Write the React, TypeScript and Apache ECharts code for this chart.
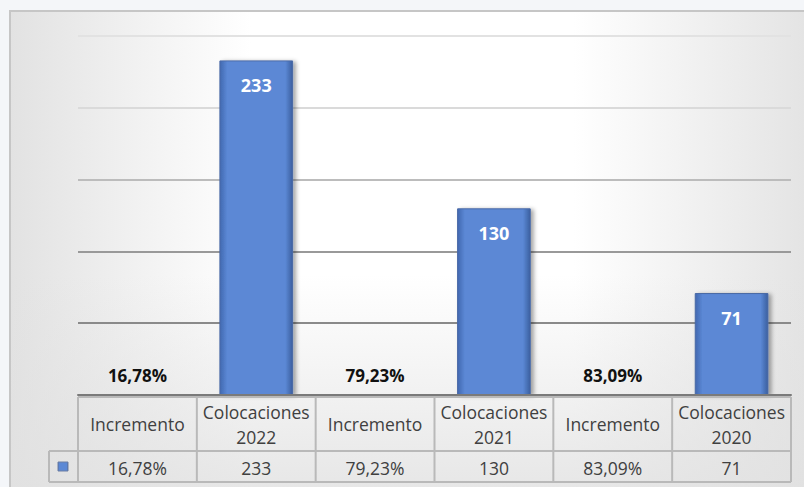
import React, { useEffect, useRef } from "react";
import * as echarts from "echarts";

const categories = ["Incremento", "Colocaciones\n2022", "Incremento", "Colocaciones\n2021", "Incremento", "Colocaciones\n2020"];
const values = [0.1678, 233, 0.7923, 130, 0.8309, 71];
const isPercent = [true, false, true, false, true, false];
const yTicks = [0, 50, 100, 150, 200, 250];

const fmt = (v: number, pct: boolean) =>
  pct ? (v * 100).toFixed(2).replace(".", ",") + "%" : String(v);

const FONT = "'Open Sans', 'Noto Sans', sans-serif";

export default function App() {
  const ref = useRef<HTMLDivElement>(null);
  useEffect(() => {
    if (!ref.current) return;
    const chart = echarts.init(ref.current, null, { renderer: "svg" });
    const barGrad = {
      type: "linear", x: 0, y: 0, x2: 1, y2: 0,
      colorStops: [
        { offset: 0, color: "#4168b0" },
        { offset: 0.1, color: "#5b88d5" },
        { offset: 0.9, color: "#5b88d5" },
        { offset: 1, color: "#3b5f9f" },
      ],
    };
    const data = values.map((v, i) => ({
      value: v,
      label: isPercent[i]
        ? { show: true, position: "top", distance: 10, color: "#111", fontWeight: "bold", fontSize: 17, fontFamily: FONT, formatter: () => fmt(v, true) }
        : { show: true, position: "insideTop", distance: 16, color: "#ffffff", fontWeight: "bold", fontSize: 18, fontFamily: FONT, formatter: () => fmt(v, false) },
    }));
    chart.setOption({
      animation: false,
      backgroundColor: "#f4f6f9",
      grid: { left: 78, right: 13, top: 36, bottom: 92 },
      xAxis: {
        type: "category",
        data: categories,
        axisLabel: { show: false },
        axisTick: { show: false },
        axisLine: { show: true, lineStyle: { color: "#7a7a7a", width: 2 } },
        z: 5,
      },
      yAxis: {
        type: "value",
        min: yTicks[0],
        max: yTicks[yTicks.length - 1],
        interval: 50,
        axisLabel: { show: false },
        axisLine: { show: false },
        axisTick: { show: false },
        splitLine: { show: true, lineStyle: { color: ["#8a8a8a", "#8a8a8a", "#999999", "#bcbcbc", "#dadada", "#e2e2e2"], width: 2 } },
      },
      series: [
        {
          type: "bar",
          data,
          barWidth: "62%",
          itemStyle: {
            color: barGrad,
            borderColor: "#4a6aa6",
            borderWidth: 1,
            shadowColor: "rgba(0,0,0,0.35)",
            shadowBlur: 4,
            shadowOffsetX: 3,
            shadowOffsetY: 1,
          },
          z: 3,
        },
      ],
    });

    const centers = categories.map((_, i) => chart.convertToPixel({ xAxisIndex: 0 }, i) as number);
    const half = (centers[1] - centers[0]) / 2;
    const axisY = chart.convertToPixel({ yAxisIndex: 0 }, 0) as number;
    const W = chart.getWidth();
    const H = chart.getHeight();
    const left = centers[0] - half;
    const right = centers[centers.length - 1] + half;
    const top = axisY + 2;
    const mid = axisY + 56;
    const bot = axisY + 87;
    const keyLeft = left - 29;
    const lineCol = "#b9b9b9";
    const g: any[] = [];
    g.push({
      type: "rect", z: -10, silent: true,
      shape: { x: 10, y: 11, width: W, height: H },
      style: {
        fill: {
          type: "linear", x: 0, y: 0, x2: 1, y2: 0,
          colorStops: [
            { offset: 0, color: "#e2e2e2" },
            { offset: 0.3, color: "#ffffff" },
            { offset: 0.7, color: "#ffffff" },
            { offset: 1, color: "#e3e3e3" },
          ],
        },
        stroke: "#c6c6c6",
        lineWidth: 2,
      },
    });
    g.push({
      type: "rect", z: -9, silent: true,
      shape: { x: 11, y: axisY - 120, width: W, height: H - axisY + 120 },
      style: {
        fill: {
          type: "linear", x: 0, y: 0, x2: 0, y2: 1,
          colorStops: [
            { offset: 0, color: "rgba(225,225,225,0)" },
            { offset: 1, color: "rgba(225,225,225,0.8)" },
          ],
        },
      },
    });
    const line = (x1: number, y1: number, x2: number, y2: number) =>
      g.push({ type: "line", z: 10, silent: true, shape: { x1, y1, x2, y2 }, style: { stroke: lineCol, lineWidth: 2 } });
    line(left, top, right, top);
    line(keyLeft, mid, right, mid);
    line(keyLeft, bot, right, bot);
    line(keyLeft, mid, keyLeft, bot);
    for (let i = 0; i <= centers.length; i++) {
      const x = i < centers.length ? centers[i] - half : right;
      line(x, top, x, bot);
    }
    categories.forEach((c, i) => {
      g.push({
        type: "text", z: 11, silent: true,
        x: centers[i], y: (top + mid) / 2,
        style: { text: c, fill: "#404040", font: `17.5px ${FONT}`, align: "center", verticalAlign: "middle", lineHeight: 25 },
      });
      g.push({
        type: "text", z: 11, silent: true,
        x: centers[i], y: (mid + bot) / 2 + 1,
        style: { text: fmt(values[i], isPercent[i]), fill: "#404040", font: `17.5px ${FONT}`, align: "center", verticalAlign: "middle" },
      });
    });
    g.push({
      type: "rect", z: 11, silent: true,
      shape: { x: keyLeft + 9, y: (mid + bot) / 2 - 4.5, width: 10, height: 9 },
      style: { fill: barGrad, stroke: "#6d7fa3", lineWidth: 1 },
    });
    chart.setOption({ graphic: g });
    return () => chart.dispose();
  }, []);
  return <div ref={ref} style={{ position: "absolute", left: 0, top: 0, width: 804, height: 487 }} />;
}
